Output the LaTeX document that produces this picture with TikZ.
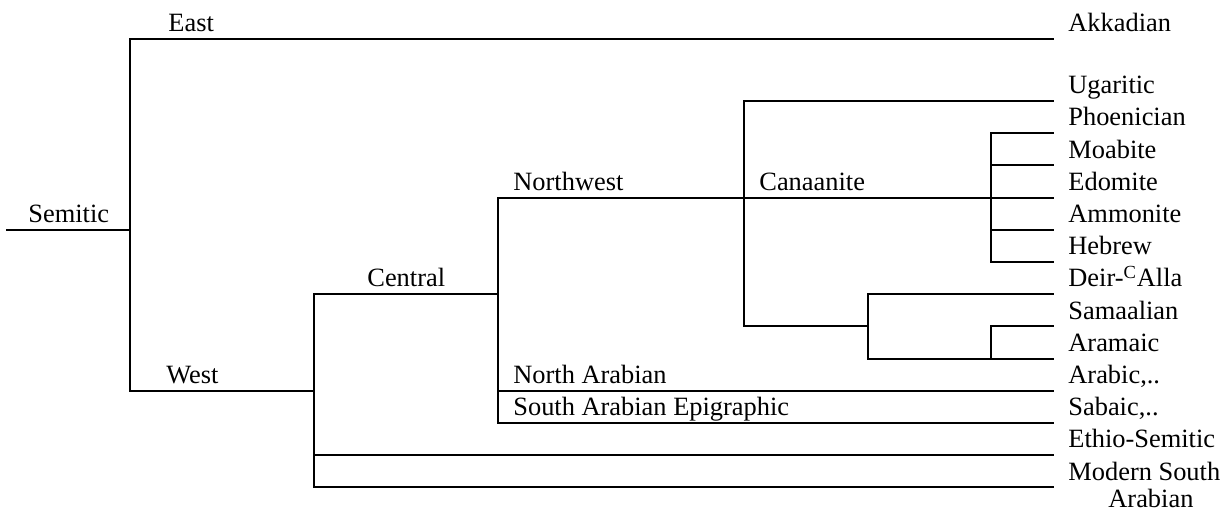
\documentclass[tikz,border=0pt]{standalone}
\usepackage{fontspec}
\setmainfont{Liberation Serif}
\begin{document}
\begin{tikzpicture}[x=0.5pt,y=-0.5pt,
  br/.style={line width=1pt, line cap=rect},
  lab/.style={anchor=base west, inner sep=0pt, font=\fontsize{13.2}{15}\selectfont}]
\useasboundingbox (0,0) rectangle (1229,511);
% junctions
\coordinate (root) at (7,229.8);
\coordinate (S) at (130,229.8);
\coordinate (W) at (314,390.8);
\coordinate (C) at (498,294.2);
\coordinate (NW) at (743.6,197.6);
\coordinate (CAN) at (990.7,197.6);
\coordinate (AG) at (867.9,326.4);
\coordinate (AR) at (990.7,358.6);
% leaves
\coordinate (akk) at (1052.5,39);
\coordinate (uga) at (1052.5,101);
\coordinate (pho) at (1052.5,133.2);
\coordinate (moa) at (1052.5,165.4);
\coordinate (edo) at (1052.5,197.6);
\coordinate (amm) at (1052.5,229.8);
\coordinate (heb) at (1052.5,262);
\coordinate (dei) at (1052.5,294.2);
\coordinate (sam) at (1052.5,326.4);
\coordinate (ara) at (1052.5,358.6);
\coordinate (arb) at (1052.5,390.8);
\coordinate (sab) at (1052.5,423);
\coordinate (eth) at (1052.5,455.2);
\coordinate (msa) at (1052.5,487.4);
% branches
\draw[br] (root) -- (S);
\draw[br] (S) |- (akk);
\draw[br] (S) |- (W);
\draw[br] (W) |- (C);
\draw[br] (W) |- (eth);
\draw[br] (W) |- (msa);
\draw[br] (C) |- (NW);
\draw[br] (C) |- (arb);
\draw[br] (C) |- (sab);
\draw[br] (NW) |- (uga);
\draw[br] (NW) -- (CAN);
\draw[br] (NW) |- (AG);
\draw[br] (CAN) |- (pho);
\draw[br] (CAN) |- (moa);
\draw[br] (CAN) -- (edo);
\draw[br] (CAN) |- (amm);
\draw[br] (CAN) |- (heb);
\draw[br] (AG) |- (dei);
\draw[br] (AG) |- (AR);
\draw[br] (AR) |- (sam);
\draw[br] (AR) -- (ara);
% branch labels
\node[lab] (lSem) at (28,222.3) {Semitic};
\node[lab] (lEast) at (168,31.7) {East};
\node[lab] (lWest) at (166,383.5) {West};
\node[lab] (lCen) at (367,286.5) {Central};
\node[lab] (lNW) at (513,190.3) {Northwest};
\node[lab] (lCan) at (759,190.3) {Canaanite};
\node[lab] (lNA) at (513,383.5) {North Arabian};
\node[lab] (lSA) at (513,415.7) {South Arabian Epigraphic};
% leaf labels
\node[lab] (tAkk) at (1068,31.7) {Akkadian};
\node[lab] (tUga) at (1068,93.7) {Ugaritic};
\node[lab] (tPho) at (1068,125.9) {Phoenician};
\node[lab] (tMoa) at (1068,158.1) {Moabite};
\node[lab] (tEdo) at (1068,190.3) {Edomite};
\node[lab] (tAmm) at (1068,222.5) {Ammonite};
\node[lab] (tHeb) at (1068,254.7) {Hebrew};
\node[lab] (tDei) at (1068,286.9) {Deir-\textsuperscript{C}Alla};
\node[lab] (tSam) at (1068,319.1) {Samaalian};
\node[lab] (tAra) at (1068,351.3) {Aramaic};
\node[lab] (tArb) at (1068,383.5) {Arabic,..};
\node[lab] (tSab) at (1068,415.7) {Sabaic,..};
\node[lab] (tEth) at (1068,447.9) {Ethio-Semitic};
\node[lab] (tMsa) at (1068,480.1) {Modern South};
\node[lab] (tMsb) at (1108,507) {Arabian};
\end{tikzpicture}
\end{document}
